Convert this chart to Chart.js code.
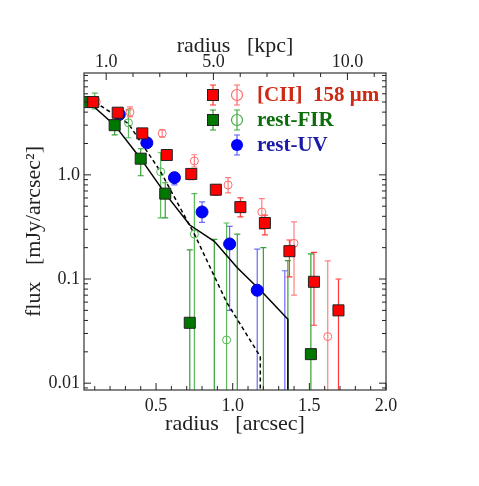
<!DOCTYPE html>
<html>
<head>
<meta charset="utf-8">
<script src="https://cdn.jsdelivr.net/npm/chart.js@4.4.1/dist/chart.umd.min.js"></script>
<style>
    html, body { margin: 0; padding: 0; background: #fff; }
    #wrap { width: 479px; height: 486px; }
</style>
</head>
<body>
<div id="wrap"><canvas id="fluxChart" width="479" height="486"></canvas></div>
<script>
// [CII] 158 um - dolu kareler
const ciiX  = [0.09, 0.25, 0.41, 0.57, 0.73, 0.89, 1.05, 1.21, 1.37, 1.53, 1.69];
const ciiY  = [5.0, 3.95, 2.5, 1.55, 1.02, 0.72, 0.49, 0.345, 0.185, 0.094, 0.050];
const ciiHi = [5.6, 4.3, 2.7, 1.65, 1.1, 0.80, 0.60, 0.41, 0.237, 0.18, 0.10];
const ciiLo = [4.5, 3.6, 2.35, 1.45, 0.9, 0.64, 0.395, 0.265, 0.105, 0.036, 0];

// [CII] - açık daireler
const ciiOpenX  = [0.11, 0.33, 0.54, 0.75, 0.97, 1.19, 1.40, 1.62];
const ciiOpenY  = [5.0, 4.0, 2.5, 1.36, 0.80, 0.44, 0.22, 0.028];
const ciiOpenHi = [5.5, 4.5, 2.7, 1.56, 0.94, 0.59, 0.353, 0.149];
const ciiOpenLo = [4.6, 3.6, 2.3, 1.19, 0.67, 0.30, 0.07, 0];

// rest-FIR - dolu kareler (null = negatif akı, sadece hata çubuğu)
const firX  = [0.06, 0.23, 0.40, 0.56, 0.72, 0.88, 1.03, 1.20, 1.36, 1.51];
const firY  = [5.0, 3.0, 1.43, 0.66, 0.038, null, null, null, null, 0.019];
const firHi = [5.6, 3.38, 1.78, 0.84, 0.19, 0.24, 0.27, 0.20, 0.15, 0.174];
const firLo = [4.5, 2.42, 0.98, 0.386, 0, 0, 0, 0, 0, 0];

// rest-FIR - açık daireler
const firOpenX  = [0.10, 0.32, 0.53, 0.75, 0.96];
const firOpenY  = [5.0, 3.16, 1.07, 0.27, 0.026];
const firOpenHi = [6.1, 4.2, 1.63, 0.66, 0.345];
const firOpenLo = [4.3, 2.27, 0.386, 0, 0];

// rest-UV - mavi daireler
const uvX  = [0.26, 0.44, 0.62, 0.80, 0.98, 1.16, 1.34];
const uvY  = [3.8, 2.03, 0.94, 0.44, 0.217, 0.078, null];
const uvHi = [4.1, 2.2, 1.05, 0.55, 0.32, 0.194, 0.12];
const uvLo = [3.5, 1.85, 0.8, 0.35, 0.05, 0, 0];

// Model eğrileri (düz ve kesikli)
const modelX = [0.06, 0.23, 0.40, 0.56, 0.72, 0.88, 1.03, 1.20, 1.36, 1.36];
const modelY = [5.0, 3.0, 1.43, 0.66, 0.33, 0.23, 0.128, 0.073, 0.041, 0.001];
const dashX  = [0.10, 0.32, 0.53, 0.75, 0.96, 1.18, 1.18];
const dashY  = [5.0, 3.1, 1.07, 0.27, 0.06, 0.018, 0.001];

// Eksen değerleri
const kpcPerArcsec = 5.72;
const xTicks = [0.5, 1.0, 1.5, 2.0];
const kpcTicks = [1, 5, 10];
const yTicks = [0.01, 0.1, 1];
const yTickLabels = ['0.01', '0.1', '1.0'];

const serif = "'Liberation Serif', 'Times New Roman', serif";
const axisFont = { family: serif, size: 18 };
const titleFont = { family: serif, size: 22 };

// Noktaları {x, y} listesine çevir
function toPoints(xs, ys) {
    const pts = [];
    xs.forEach((x, i) => {
        if (ys[i] !== null) pts.push({ x: x, y: ys[i] });
    });
    return pts;
}

// Hata çubukları grupları
const errorGroups = [
    { x: uvX, lo: uvLo, hi: uvHi, color: '#6a6aff' },
    { x: firOpenX, lo: firOpenLo, hi: firOpenHi, color: '#5cb85c' },
    { x: firX, lo: firLo, hi: firHi, color: '#35a035' },
    { x: ciiOpenX, lo: ciiOpenLo, hi: ciiOpenHi, color: '#ff8080' },
    { x: ciiX, lo: ciiLo, hi: ciiHi, color: '#ff3a3a' }
];

const errorBarPlugin = {
    id: 'errorBars',
    beforeDatasetsDraw(chart) {
        const { ctx, chartArea: a, scales } = chart;
        ctx.save();
        ctx.beginPath();
        ctx.rect(a.left, a.top, a.right - a.left, a.bottom - a.top);
        ctx.clip();
        ctx.lineWidth = 1.2;
        errorGroups.forEach(g => {
            ctx.strokeStyle = g.color;
            g.x.forEach((xv, i) => {
                const px = scales.x.getPixelForValue(xv);
                const top = scales.y.getPixelForValue(g.hi[i]);
                const bot = g.lo[i] > 0 ? scales.y.getPixelForValue(g.lo[i]) : a.bottom + 2;
                ctx.beginPath();
                ctx.moveTo(px, top);
                ctx.lineTo(px, bot);
                ctx.moveTo(px - 3, top);
                ctx.lineTo(px + 3, top);
                if (g.lo[i] > 0) {
                    ctx.moveTo(px - 3, bot);
                    ctx.lineTo(px + 3, bot);
                }
                ctx.stroke();
            });
        });
        ctx.restore();
    }
};

// Çerçeve ve içe dönük tikler
const frameTicksPlugin = {
    id: 'frameTicks',
    afterDraw(chart) {
        const { ctx, chartArea: a, scales } = chart;
        ctx.save();
        ctx.strokeStyle = '#444';
        ctx.lineWidth = 1.3;
        ctx.strokeRect(a.left, a.top, a.right - a.left, a.bottom - a.top);
        ctx.strokeStyle = '#222';
        ctx.lineWidth = 1;
        ctx.beginPath();
        // alt eksen (arcsec)
        for (let k = 1; k <= 20; k++) {
            const v = k / 10;
            const px = scales.x.getPixelForValue(v);
            if (px < a.left || px > a.right + 0.5) continue;
            const len = (k % 5 === 0) ? 7 : 4;
            ctx.moveTo(px, a.bottom);
            ctx.lineTo(px, a.bottom - len);
        }
        // üst eksen (kpc)
        for (let k = 1; k <= 11; k++) {
            const px = scales.x2.getPixelForValue(k);
            if (px < a.left || px > a.right + 0.5) continue;
            const len = kpcTicks.includes(k) ? 7 : 4;
            ctx.moveTo(px, a.top);
            ctx.lineTo(px, a.top + len);
        }
        // sol ve sağ eksen (log)
        for (let d = -3; d <= 0; d++) {
            for (let m = 1; m <= 9; m++) {
                const v = m * Math.pow(10, d);
                if (v < scales.y.min || v > scales.y.max) continue;
                const py = scales.y.getPixelForValue(v);
                const len = m === 1 ? 7 : 4;
                ctx.moveTo(a.left, py);
                ctx.lineTo(a.left + len, py);
                ctx.moveTo(a.right, py);
                ctx.lineTo(a.right - len, py);
            }
        }
        ctx.stroke();
        ctx.restore();
    }
};

// Lejant (iki sembollü satırlar)
function drawSquare(ctx, x, y, fill) {
    ctx.fillStyle = fill;
    ctx.fillRect(x - 5.5, y - 5.5, 11, 11);
    ctx.strokeStyle = '#222';
    ctx.lineWidth = 1;
    ctx.strokeRect(x - 5.5, y - 5.5, 11, 11);
}

function drawBar(ctx, x, y, color) {
    ctx.strokeStyle = color;
    ctx.lineWidth = 1.2;
    ctx.beginPath();
    ctx.moveTo(x, y - 10); ctx.lineTo(x, y + 10);
    ctx.moveTo(x - 3, y - 10); ctx.lineTo(x + 3, y - 10);
    ctx.moveTo(x - 3, y + 10); ctx.lineTo(x + 3, y + 10);
    ctx.stroke();
}

function drawOpenCircle(ctx, x, y, color) {
    ctx.strokeStyle = color;
    ctx.lineWidth = 1.2;
    ctx.beginPath();
    ctx.arc(x, y, 5.5, 0, Math.PI * 2);
    ctx.stroke();
}

const legendPlugin = {
    id: 'twoSymbolLegend',
    afterDraw(chart) {
        const ctx = chart.ctx;
        ctx.save();
        // [CII]
        drawBar(ctx, 213, 95, '#ff3030');
        drawSquare(ctx, 213, 95, '#ff0000');
        drawBar(ctx, 237, 95, '#ff6a6a');
        drawOpenCircle(ctx, 237, 95, '#ff6a6a');
        // rest-FIR
        drawBar(ctx, 213, 120, '#2e9a2e');
        drawSquare(ctx, 213, 120, '#007800');
        drawBar(ctx, 237, 120, '#3fae3f');
        drawOpenCircle(ctx, 237, 120, '#3fae3f');
        // rest-UV
        drawBar(ctx, 237, 145, '#5a5aff');
        ctx.fillStyle = '#0000ff';
        ctx.beginPath();
        ctx.arc(237, 145, 6, 0, Math.PI * 2);
        ctx.fill();

        ctx.font = 'bold 21px ' + serif;
        ctx.textBaseline = 'middle';
        ctx.textAlign = 'left';
        ctx.fillStyle = '#cc2a14';
        ctx.fillText('[CII]  158 μm', 257, 96);
        ctx.fillStyle = '#0b6e0b';
        ctx.fillText('rest-FIR', 257, 121);
        ctx.fillStyle = '#1a1aa8';
        ctx.fillText('rest-UV', 257, 146);
        ctx.restore();
    }
};

const ctx = document.getElementById('fluxChart').getContext('2d');

new Chart(ctx, {
    type: 'scatter',
    data: {
        datasets: [
            {
                label: '[CII] 158 um',
                data: toPoints(ciiX, ciiY),
                pointStyle: 'rect',
                pointRadius: 7.8,
                backgroundColor: '#ff0000',
                borderColor: '#222',
                borderWidth: 1,
                order: 1
            },
            {
                label: 'rest-FIR',
                data: toPoints(firX, firY),
                pointStyle: 'rect',
                pointRadius: 7.8,
                backgroundColor: '#007800',
                borderColor: '#222',
                borderWidth: 1,
                order: 2
            },
            {
                label: 'rest-UV',
                data: toPoints(uvX, uvY),
                pointStyle: 'circle',
                pointRadius: 6,
                backgroundColor: '#0000ff',
                borderColor: '#0000d0',
                borderWidth: 1,
                order: 3
            },
            {
                label: '[CII] open',
                data: toPoints(ciiOpenX, ciiOpenY),
                pointStyle: 'circle',
                pointRadius: 4,
                backgroundColor: 'rgba(0,0,0,0)',
                borderColor: '#ff6a6a',
                borderWidth: 1,
                order: 4
            },
            {
                label: 'rest-FIR open',
                data: toPoints(firOpenX, firOpenY),
                pointStyle: 'circle',
                pointRadius: 4,
                backgroundColor: 'rgba(0,0,0,0)',
                borderColor: '#55b555',
                borderWidth: 1,
                order: 5
            },
            {
                label: 'model',
                type: 'line',
                data: toPoints(modelX, modelY),
                showLine: true,
                pointRadius: 0,
                borderColor: '#000',
                borderWidth: 1.5,
                tension: 0,
                order: 6
            },
            {
                label: 'model dashed',
                type: 'line',
                data: toPoints(dashX, dashY),
                showLine: true,
                pointRadius: 0,
                borderColor: '#000',
                borderWidth: 1.5,
                borderDash: [4, 3],
                tension: 0,
                order: 7
            }
        ]
    },
    options: {
        responsive: false,
        animation: false,
        devicePixelRatio: 1,
        layout: { padding: { left: 0, right: 93, top: 0, bottom: 0 } },
        plugins: {
            legend: { display: false },
            tooltip: { enabled: false }
        },
        scales: {
            x: {
                type: 'linear',
                position: 'bottom',
                min: 0.03,
                max: 2.0,
                afterFit(scale) { scale.height = 96; },
                afterBuildTicks(scale) { scale.ticks = xTicks.map(v => ({ value: v })); },
                ticks: {
                    font: axisFont,
                    color: '#222',
                    padding: 5,
                    maxRotation: 0,
                    autoSkip: false,
                    callback: v => v.toFixed(1)
                },
                grid: { display: false, drawTicks: false },
                border: { display: false },
                title: {
                    display: true,
                    text: 'radius   [arcsec]',
                    font: titleFont,
                    color: '#222',
                    padding: { bottom: 49 }
                }
            },
            x2: {
                type: 'linear',
                position: 'top',
                min: 0.03 * kpcPerArcsec,
                max: 2.0 * kpcPerArcsec,
                afterFit(scale) { scale.height = 73; },
                afterBuildTicks(scale) { scale.ticks = kpcTicks.map(v => ({ value: v })); },
                ticks: {
                    font: axisFont,
                    color: '#222',
                    padding: 0,
                    maxRotation: 0,
                    autoSkip: false,
                    callback: v => v.toFixed(1)
                },
                grid: { display: false, drawTicks: false },
                border: { display: false },
                title: {
                    display: true,
                    text: 'radius   [kpc]',
                    font: titleFont,
                    color: '#222',
                    padding: { top: 33 }
                }
            },
            y: {
                type: 'logarithmic',
                min: 0.0086,
                max: 9.5,
                afterFit(scale) { scale.width = 84; },
                afterBuildTicks(scale) { scale.ticks = yTicks.map(v => ({ value: v })); },
                ticks: {
                    font: axisFont,
                    color: '#222',
                    padding: 4,
                    autoSkip: false,
                    callback: (v, i) => yTickLabels[i]
                },
                grid: { display: false, drawTicks: false },
                border: { display: false },
                title: {
                    display: true,
                    text: 'flux   [mJy/arcsec²]',
                    font: titleFont,
                    color: '#222',
                    padding: { top: 21 }
                }
            }
        }
    },
    plugins: [errorBarPlugin, frameTicksPlugin, legendPlugin]
});
</script>
</body>
</html>
